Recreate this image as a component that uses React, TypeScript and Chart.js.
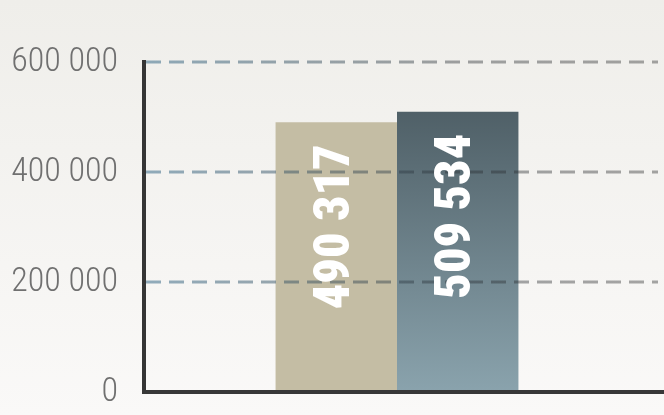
import React, { useEffect, useRef } from "react";
import { Chart, registerables } from "chart.js";

Chart.register(...registerables);

const categories = [""];
const seriesNames = ["A", "B"];
const seriesA = [490317];
const seriesB = [509534];
const yTicks = [0, 200000, 400000, 600000];

const FONT = "'Roboto Condensed', 'Liberation Sans Narrow', 'DejaVu Sans Condensed', sans-serif";

function fmt(v: number) {
  return String(Math.round(v)).replace(/\B(?=(\d{3})+(?!\d))/g, " ");
}

const overlayPlugin = {
  id: "overlay",
  beforeDraw(chart: any) {
    const { ctx, width, height } = chart;
    const g = ctx.createLinearGradient(0, 0, 0, height);
    g.addColorStop(0, "#efeeea");
    g.addColorStop(1, "#faf9f8");
    ctx.save();
    ctx.fillStyle = g;
    ctx.fillRect(0, 0, width, height);
    ctx.restore();
  },
  afterDatasetsDraw(chart: any) {
    const { ctx, chartArea } = chart;
    const y = chart.scales.y;
    ctx.save();
    const g = ctx.createLinearGradient(chartArea.left, 0, chart.width, 0);
    g.addColorStop(0, "rgba(60,110,140,0.55)");
    g.addColorStop(0.6, "rgba(40,45,50,0.42)");
    g.addColorStop(1, "rgba(40,40,40,0.4)");
    ctx.strokeStyle = g;
    ctx.lineWidth = 3;
    ctx.setLineDash([15, 8]);
    yTicks.forEach((t) => {
      if (t === 0) return;
      const py = Math.round(y.getPixelForValue(t));
      ctx.beginPath();
      ctx.moveTo(chartArea.left + 2, py);
      ctx.lineTo(chart.width - 6, py);
      ctx.stroke();
    });
    ctx.setLineDash([]);
    // x axis line extended to the canvas edge
    const by = Math.round(y.getPixelForValue(0));
    ctx.fillStyle = "#383838";
    ctx.fillRect(chartArea.left - 2, by - 2, chart.width - chartArea.left + 2, 4);
    // labels
    ctx.fillStyle = "#ffffff";
    ctx.font = "900 50px " + FONT;
    ctx.textAlign = "right";
    ctx.textBaseline = "middle";
    chart.data.datasets.forEach((ds: any, i: number) => {
      const meta = chart.getDatasetMeta(i);
      meta.data.forEach((bar: any, j: number) => {
        const v = ds.data[j];
        ctx.save();
        ctx.translate(bar.x, bar.y + 22);
        ctx.rotate(-Math.PI / 2);
        ctx.fillText(fmt(v), 0, 0);
        ctx.restore();
      });
    });
    ctx.restore();
  },
};

export default function App() {
  const ref = useRef<HTMLCanvasElement>(null);
  useEffect(() => {
    const canvas = ref.current!;
    const chart = new Chart(canvas, {
      type: "bar",
      data: {
        labels: categories,
        datasets: [
          {
            label: seriesNames[0],
            data: seriesA,
            backgroundColor: "#c4bda4",
            categoryPercentage: 0.48,
            barPercentage: 1,
          },
          {
            label: seriesNames[1],
            data: seriesB,
            backgroundColor: (c: any) => {
              const ca = c.chart.chartArea;
              if (!ca) return "#5a6d76";
              const g = c.chart.ctx.createLinearGradient(0, ca.top, 0, ca.bottom);
              g.addColorStop(0, "#45545b");
              g.addColorStop(1, "#8aa3ad");
              return g;
            },
            categoryPercentage: 0.48,
            barPercentage: 1,
          },
        ],
      },
      options: {
        animation: false,
        responsive: false,
        layout: { padding: { top: 62, right: 14, left: 0, bottom: 23 } },
        plugins: { legend: { display: false }, tooltip: { enabled: false } },
        scales: {
          x: {
            display: false,
          },
          y: {
            min: 0,
            max: 600000,
            afterBuildTicks: (s: any) => {
              s.ticks = yTicks.map((v) => ({ value: v }));
            },
            grid: { display: false, drawTicks: false },
            border: { display: true, color: "#353535", width: 4 },
            ticks: {
              padding: 26,
              color: "#707070",
              font: { family: FONT, size: 34, weight: "300" },
              callback: (v: any) => fmt(Number(v)),
            },
            afterFit: (s: any) => {
              s.width = 144;
              s.paddingTop = 0;
              s.paddingBottom = 0;
            },
          },
        },
      },
      plugins: [overlayPlugin],
    });
    return () => chart.destroy();
  }, []);
  return (
    <div style={{ position: "fixed", left: 0, top: 0, width: 664, height: 415 }}>
      <canvas ref={ref} width={664} height={415} style={{ display: "block" }} />
    </div>
  );
}
